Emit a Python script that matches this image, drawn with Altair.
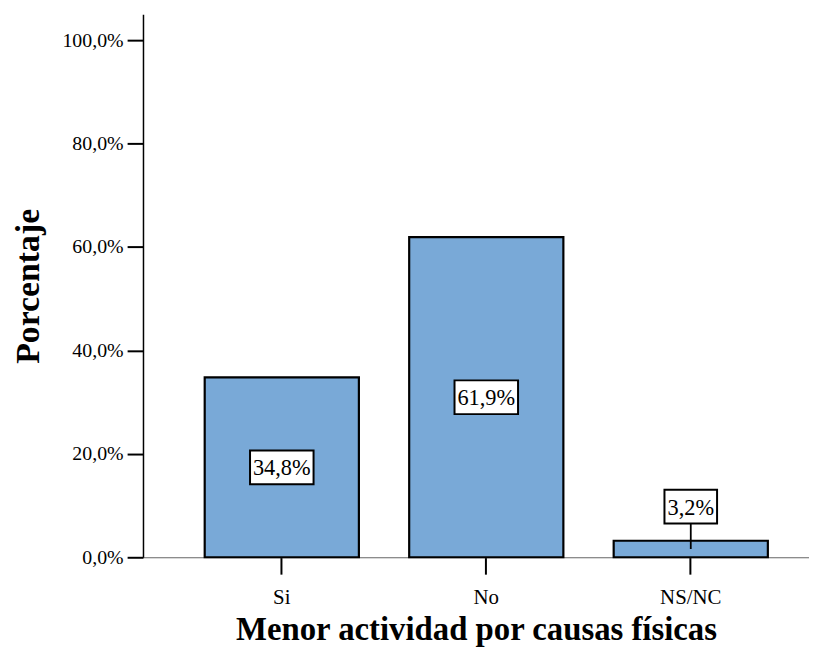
import altair as alt
import pandas as pd

categories = ["Si", "No", "NS/NC"]
values = [34.8, 61.9, 3.2]

df = pd.DataFrame({"cat": categories, "v": values})

FONT = "Liberation Serif"
BAR = "#79a9d7"

xenc = alt.X("cat:N", sort=categories,
             scale=alt.Scale(paddingInner=0.246, paddingOuter=0.2515, align=0.6),
             axis=alt.Axis(title="Menor actividad por causas físicas", labelAngle=0,
                           labelFont=FONT, labelFontSize=21, labelColor="black",
                           labelPadding=13, tickSize=17, tickWidth=2, tickColor="black",
                           domainColor="#666666", domainWidth=1.2,
                           titleFont=FONT, titleFontSize=33, titleFontWeight="bold",
                           titleColor="black", titlePadding=6))

base = alt.Chart(df).transform_calculate(
    label="replace(format(datum.v, '.1f'), '.', ',') + '%'",
    ly="datum.v > 10 ? datum.v / 2 : datum.v + 6.6",
    lo="datum.v / 2",
    hi="datum.v + 3.4",
).transform_calculate(
    w="11 * length(datum.label) + 9",
).transform_calculate(
    sz="datum.w * datum.w",
    path="'M-1,' + (-34 / datum.w) + 'H1V' + (34 / datum.w) + 'H-1Z'",
)

yscale = alt.Scale(domain=[0, 105], nice=False)

bars = base.mark_bar(fill=BAR, stroke="black", strokeWidth=2.2).encode(
    x=xenc,
    y=alt.Y("v:Q", scale=yscale,
            axis=alt.Axis(title="Porcentaje", values=[0, 20, 40, 60, 80, 100],
                          labelExpr="replace(format(datum.value, '.1f'), '.', ',') + '%'",
                          labelFont=FONT, labelFontSize=20, labelColor="black",
                          labelPadding=4, tickSize=16, tickWidth=2, tickColor="black",
                          domainColor="black", domainWidth=1.5, grid=False,
                          titleFont=FONT, titleFontSize=34, titleFontWeight="bold",
                          titleColor="black", titlePadding=17)),
)

leader = base.transform_filter("datum.v <= 10").mark_rule(color="black", strokeWidth=1.8).encode(
    x=alt.X("cat:N", sort=categories),
    y=alt.Y("lo:Q", scale=yscale),
    y2="hi:Q",
)

boxes = base.mark_point(filled=True, fill="white", stroke="black", strokeWidth=2,
                        opacity=1).encode(
    x=alt.X("cat:N", sort=categories),
    y=alt.Y("ly:Q", scale=yscale),
    shape=alt.Shape("path:N", scale=None),
    size=alt.Size("sz:Q", scale=None),
)

texts = base.mark_text(font=FONT, fontSize=22.5, color="black", baseline="middle", dy=1).encode(
    x=alt.X("cat:N", sort=categories),
    y=alt.Y("ly:Q", scale=yscale),
    text="label:N",
)

chart = alt.layer(bars, leader, boxes, texts).properties(
    width=671, height=547,
    autosize=alt.AutoSizeParams(type="none"),
    padding={"left": 136, "top": 4, "right": 0, "bottom": 89},
).configure_view(stroke=None)

chart.save("out.html", embed_options={"renderer": "svg", "actions": False})
